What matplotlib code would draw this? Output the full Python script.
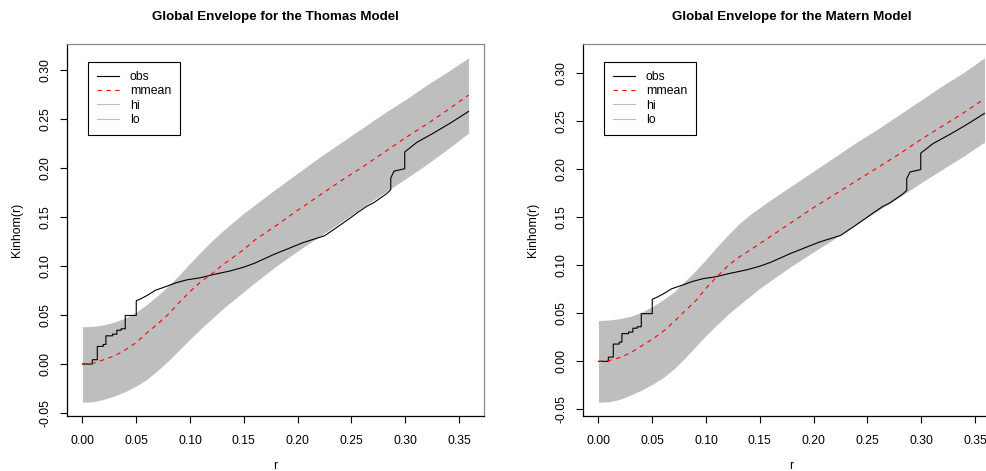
import matplotlib
matplotlib.use("Agg")
import matplotlib.pyplot as plt
from matplotlib.lines import Line2D

plt.rcParams['font.family'] = ['Liberation Sans', 'DejaVu Sans']

# envelope grid (r) and curves for each fitted model
r_thomas = [0.0, 0.01, 0.02, 0.03, 0.04, 0.05, 0.06, 0.07, 0.08, 0.09, 0.10,
            0.11, 0.12, 0.13, 0.14, 0.15, 0.16, 0.18, 0.20, 0.22, 0.24, 0.26,
            0.28, 0.30, 0.32, 0.34, 0.3588]
hi_thomas = [0.038, 0.0385, 0.040, 0.043, 0.047, 0.053, 0.061, 0.070, 0.080,
             0.091, 0.103, 0.1145, 0.1255, 0.1355, 0.145, 0.154, 0.1625, 0.179,
             0.195, 0.211, 0.226, 0.241, 0.256, 0.270, 0.285, 0.299, 0.3128]
lo_thomas = [-0.039, -0.0385, -0.036, -0.0325, -0.028, -0.0225, -0.0155,
             -0.0065, 0.0035, 0.0145, 0.0255, 0.036, 0.046, 0.056, 0.065,
             0.074, 0.083, 0.1, 0.1155, 0.13, 0.145, 0.160, 0.1745, 0.189,
             0.204, 0.220, 0.236]
mmean_thomas = [0.0, 0.0008, 0.0045, 0.0085, 0.0145, 0.022, 0.032, 0.041,
                0.051, 0.063, 0.074, 0.084, 0.092, 0.101, 0.109, 0.117, 0.1265,
                0.1415, 0.157, 0.172, 0.187, 0.201, 0.216, 0.231, 0.245, 0.260,
                0.2747]

r_matern = r_thomas
hi_matern = [0.0425, 0.043, 0.0445, 0.047, 0.051, 0.057, 0.064, 0.072, 0.083,
             0.094, 0.106, 0.119, 0.131, 0.1425, 0.152, 0.160, 0.168, 0.183,
             0.198, 0.213, 0.228, 0.242, 0.257, 0.272, 0.287, 0.301, 0.3158]
lo_matern = [-0.0425, -0.042, -0.0395, -0.035, -0.030, -0.024, -0.017, -0.008,
             0.003, 0.015, 0.027, 0.038, 0.0485, 0.058, 0.067, 0.076, 0.084,
             0.0995, 0.114, 0.128, 0.143, 0.157, 0.171, 0.186, 0.200, 0.214,
             0.2282]
mmean_matern = [0.0, 0.0008, 0.004, 0.009, 0.016, 0.023, 0.031, 0.041, 0.052,
                0.0625, 0.076, 0.088, 0.099, 0.108, 0.115, 0.1225, 0.130, 0.145,
                0.160, 0.174, 0.188, 0.202, 0.216, 0.231, 0.245, 0.259, 0.2732]

# observed Kinhom(r) of the point pattern (same for both panels)
obs_r = [0.0, 0.0092, 0.0092, 0.0138, 0.0138, 0.0193, 0.0193, 0.0218, 0.0218,
         0.028, 0.028, 0.032, 0.032, 0.036, 0.036, 0.0398, 0.0398, 0.050, 0.050,
         0.054, 0.060, 0.068, 0.076, 0.087, 0.097, 0.109, 0.122, 0.137, 0.150,
         0.160, 0.178, 0.205, 0.225, 0.237, 0.2486, 0.2554, 0.264, 0.271,
         0.2827, 0.2865, 0.2865, 0.2895, 0.2995, 0.2995, 0.311, 0.3264, 0.342,
         0.3588]
obs_k = [0.0, 0.0, 0.0044, 0.0044, 0.018, 0.018, 0.020, 0.020, 0.0288, 0.0288,
         0.0305, 0.0305, 0.0345, 0.0345, 0.036, 0.036, 0.0496, 0.0496, 0.0646,
         0.0665, 0.070, 0.0755, 0.0785, 0.083, 0.086, 0.088, 0.0915, 0.095,
         0.099, 0.103, 0.112, 0.124, 0.131, 0.140, 0.149, 0.1545, 0.161, 0.165,
         0.174, 0.178, 0.190, 0.197, 0.1995, 0.2166, 0.2266, 0.236, 0.2462,
         0.258]

panels = [
    ("Global Envelope for the Thomas Model", r_thomas, hi_thomas, lo_thomas, mmean_thomas),
    ("Global Envelope for the Matern Model", r_matern, hi_matern, lo_matern, mmean_matern),
]
xticks = [0.0, 0.05, 0.10, 0.15, 0.20, 0.25, 0.30, 0.35]
yticks = [-0.05, 0.0, 0.05, 0.10, 0.15, 0.20, 0.25, 0.30]

W, H = 986, 471
fig = plt.figure(figsize=(W / 100, H / 100), dpi=100)
lefts = [67, 583]
fs = 8.8

for left, (title, r, hi, lo, mm) in zip(lefts, panels):
    ax = fig.add_axes([left / W, (H - 416) / H, 417 / W, 372 / H])
    ax.fill_between(r, lo, hi, color='#bebebe', linewidth=0)
    ax.plot(obs_r, obs_k, color='black', lw=0.8)
    ax.plot(r, mm, color='red', lw=0.8, linestyle=(0, (4, 4)))

    # R style 4% padding around the data range
    lo_all = min(min(lo), min(obs_k))
    hi_all = max(max(hi), max(obs_k))
    pad = 0.04 * (hi_all - lo_all)
    ax.set_ylim(lo_all - pad, hi_all + pad)
    xpad = 0.04 * r[-1]
    ax.set_xlim(-xpad, r[-1] + xpad)

    ax.set_xticks(xticks)
    ax.set_xticklabels(["%.2f" % t for t in xticks])
    ax.set_yticks(yticks)
    ax.set_yticklabels(["%.2f" % t for t in yticks], rotation=90, va='center')
    ax.tick_params(direction='out', length=5, width=0.8, labelsize=fs, pad=9)
    ax.tick_params(axis='y', pad=6)
    for s in ['left', 'bottom']:
        ax.spines[s].set_color('black')
        ax.spines[s].set_linewidth(0.9)
    for s in ['top', 'right']:
        ax.spines[s].set_color('#8c8c8c')
        ax.spines[s].set_linewidth(0.9)

    ax.set_xlabel("r", fontsize=fs, labelpad=9)
    ax.set_ylabel("Kinhom(r)", fontsize=fs, labelpad=12)
    ax.set_title(title, fontsize=fs + 0.8, fontweight='bold', pad=17)

    handles = [
        Line2D([], [], color='black', lw=0.8),
        Line2D([], [], color='red', lw=0.8, linestyle=(0, (4, 4))),
        Line2D([], [], color='#bebebe', lw=0.8),
        Line2D([], [], color='#bebebe', lw=0.8),
    ]
    leg = ax.legend(handles, ["obs", "mmean", "hi", "lo"], loc='upper left',
                    bbox_to_anchor=(0.051, 0.951), borderaxespad=0,
                    fontsize=fs, frameon=True, fancybox=False, edgecolor='black',
                    framealpha=1, handlelength=1.8, handletextpad=0.9,
                    borderpad=0.7, labelspacing=0.2)
    leg.get_frame().set_linewidth(0.8)

fig.savefig("out.png", dpi=100)
